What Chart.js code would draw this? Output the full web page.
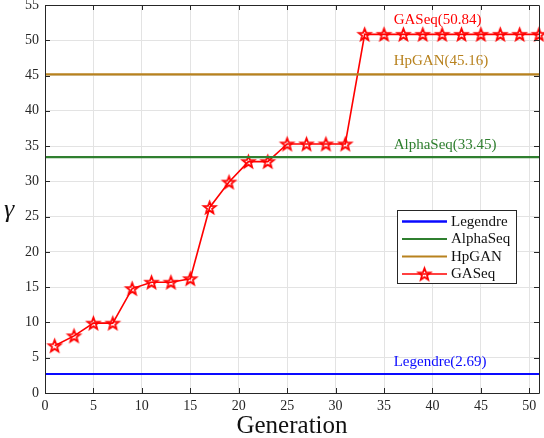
<!DOCTYPE html>
<html><head><meta charset="utf-8">
<script src="https://cdn.jsdelivr.net/npm/chart.js@4"></script>
<style>html,body{margin:0;padding:0;background:#fff;}#wrap{width:544px;height:438px;}</style>
</head><body><div id="wrap"><canvas id="c" width="544" height="438"></canvas></div>
<script>
const generations = [1,3,5,7,9,11,13,15,17,19,21,23,25,27,29,31,33,35,37,39,41,43,45,47,49,51];
const gaseqValues = [6.7,8.1,9.9,9.9,14.8,15.7,15.7,16.2,26.3,29.9,32.8,32.8,35.3,35.3,35.3,35.3,50.84,50.84,50.84,50.84,50.84,50.84,50.84,50.84,50.84,50.84];
const legendreValue = 2.69;
const alphaseqValue = 33.45;
const hpganValue = 45.16;
const xRange = [0, 51];
const yRange = [0, 55];
const xTickValues = [0,5,10,15,20,25,30,35,40,45,50];
const seriesNames = ['Legendre','AlphaSeq','HpGAN','GASeq'];
const annotationLabels = ['Legendre(2.69)','AlphaSeq(33.45)','HpGAN(45.16)','GASeq(50.84)'];

const FONT = '"Liberation Serif", "Times New Roman", serif';
const colors = {Legendre:'#0a0aff', AlphaSeq:'#2f7f2f', HpGAN:'#b8821e', GASeq:'#ff0000'};

function starCanvas(r, color, lw){
  const s = Math.ceil(r*2+lw*2+2);
  const cv = document.createElement('canvas'); cv.width = s; cv.height = s;
  const g = cv.getContext('2d');
  const cx = s/2, cy = s/2 + 0.5;
  g.beginPath();
  for(let i=0;i<10;i++){
    const rr = i%2===0 ? r : r*0.42;
    const a = -Math.PI/2 + i*Math.PI/5;
    const px = cx + rr*Math.cos(a), py = cy + rr*Math.sin(a);
    if(i===0) g.moveTo(px,py); else g.lineTo(px,py);
  }
  g.closePath();
  g.strokeStyle = color; g.lineWidth = lw; g.stroke();
  return cv;
}
const star = starCanvas(6.3, colors.GASeq, 1.8);

const hline = v => [{x:xRange[0], y:v},{x:xRange[1], y:v}];

const overlay = {
  id:'overlay',
  afterDraw(chart){
    const ctx = chart.ctx, xs = chart.scales.x, ys = chart.scales.y, a = chart.chartArea;
    ctx.save();
    ctx.strokeStyle = '#262626'; ctx.lineWidth = 1;
    const tl = 5;
    xs.ticks.forEach(t=>{
      const px = Math.round(xs.getPixelForValue(t.value))+0.5;
      ctx.beginPath(); ctx.moveTo(px,a.bottom); ctx.lineTo(px,a.bottom-tl);
      ctx.moveTo(px,a.top); ctx.lineTo(px,a.top+tl); ctx.stroke();
    });
    ys.ticks.forEach(t=>{
      const py = Math.round(ys.getPixelForValue(t.value))+0.5;
      ctx.beginPath(); ctx.moveTo(a.left,py); ctx.lineTo(a.left+tl,py);
      ctx.moveTo(a.right,py); ctx.lineTo(a.right-tl,py); ctx.stroke();
    });
    ctx.beginPath();
    ctx.rect(Math.round(a.left)+0.5, Math.round(a.top)+0.5, Math.round(a.right-a.left), Math.round(a.bottom-a.top));
    ctx.stroke();

    ctx.font = '15px ' + FONT; ctx.textBaseline = 'middle'; ctx.textAlign = 'left';
    const ann = [
      [annotationLabels[0], colors.Legendre, 36, 4.35],
      [annotationLabels[1], colors.AlphaSeq, 36, 35.2],
      [annotationLabels[2], colors.HpGAN, 36, 47.1],
      [annotationLabels[3], colors.GASeq, 36, 52.8]
    ];
    ann.forEach(([t,c,x,y])=>{ ctx.fillStyle=c; ctx.fillText(t, xs.getPixelForValue(x), ys.getPixelForValue(y)); });

    const lx = 397.5, ly = 210.5, lw = 119, lh = 73;
    ctx.fillStyle = '#fff'; ctx.fillRect(lx,ly,lw,lh);
    ctx.strokeStyle = '#262626'; ctx.lineWidth = 1; ctx.strokeRect(lx,ly,lw,lh);
    const rows = [221.5, 239, 256.5, 274];
    const widths = [2.5, 2, 2, 1.6];
    ctx.font = '15px ' + FONT;
    seriesNames.forEach((n,i)=>{
      ctx.strokeStyle = colors[n]; ctx.lineWidth = widths[i];
      ctx.beginPath(); ctx.moveTo(402, rows[i]); ctx.lineTo(447, rows[i]); ctx.stroke();
      if(n==='GASeq'){ ctx.drawImage(star, 424.5 - star.width/2, rows[i]-star.height/2); }
      ctx.fillStyle = '#111';
      ctx.fillText(n, 451, rows[i]+0.5);
    });

    ctx.font = 'italic 26px ' + FONT; ctx.fillStyle = '#111'; ctx.textAlign='center';
    ctx.fillText('γ', 9, 210);
    ctx.restore();
  }
};

new Chart(document.getElementById('c'), {
  type:'line',
  data:{
    datasets:[
      {label:seriesNames[0], data:hline(legendreValue), borderColor:colors.Legendre, borderWidth:2, pointRadius:0},
      {label:seriesNames[1], data:hline(alphaseqValue), borderColor:colors.AlphaSeq, borderWidth:2.2, pointRadius:0},
      {label:seriesNames[2], data:hline(hpganValue), borderColor:colors.HpGAN, borderWidth:2.2, pointRadius:0},
      {label:seriesNames[3], data:generations.map((g,i)=>({x:g,y:gaseqValues[i]})), borderColor:colors.GASeq, borderWidth:1.6, pointStyle:star, pointRadius:0.5, pointBorderWidth:0, tension:0, clip:false}
    ]
  },
  options:{
    responsive:false, animation:false, devicePixelRatio:1,
    layout:{padding:{top:5,right:5,left:0,bottom:0}},
    plugins:{legend:{display:false}, tooltip:{enabled:false}},
    scales:{
      x:{type:'linear', min:xRange[0], max:xRange[1],
        afterFit(s){ s.height = 45; s.paddingLeft = 0; s.paddingRight = 0; },
        afterBuildTicks(s){ s.ticks = xTickValues.map(v=>({value:v})); },
        ticks:{font:{family:FONT,size:14}, color:'#262626', padding:5, maxRotation:0},
        grid:{color:'#e3e3e3', drawTicks:false, tickLength:0},
        border:{display:false},
        title:{display:true, text:'Generation', font:{family:FONT,size:25}, color:'#111', padding:{top:0,bottom:-3}}
      },
      y:{min:yRange[0], max:yRange[1],
        afterFit(s){ s.width = 45; s.paddingTop = 0; s.paddingBottom = 0; },
        ticks:{stepSize:5, font:{family:FONT,size:14}, color:'#262626', padding:6},
        grid:{color:'#e3e3e3', drawTicks:false, tickLength:0},
        border:{display:false}
      }
    }
  },
  plugins:[overlay]
});
</script></body></html>
